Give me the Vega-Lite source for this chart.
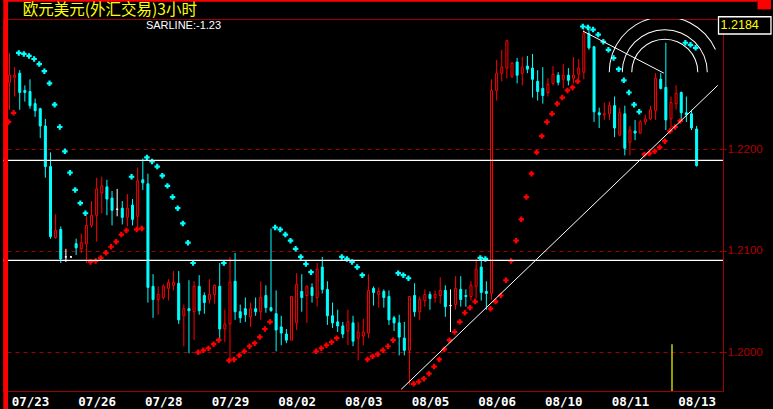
{
  "$schema": "https://vega.github.io/schema/vega-lite/v6.json",
  "width": 720,
  "height": 372,
  "autosize": {"type": "none"},
  "padding": {"left": 3, "top": 19, "right": 50, "bottom": 18},
  "background": "#000000",
  "config": {"view": {"stroke": "#a00000", "strokeWidth": 1, "fill": "#000000"}},
  "datasets": {
    "candles": [
      {"i":0,"o":1.2266,"h":1.2295,"l":1.2239,"c":1.2273,"s":1.2227},
      {"i":1,"o":1.2271,"h":1.2281,"l":1.2252,"c":1.2273,"s":1.2236},
      {"i":2,"o":1.2275,"h":1.2278,"l":1.2239,"c":1.2256,"s":1.2295},
      {"i":3,"o":1.2258,"h":1.2263,"l":1.2247,"c":1.2256,"s":1.2294},
      {"i":4,"o":1.2257,"h":1.2269,"l":1.2240,"c":1.2243,"s":1.2292},
      {"i":5,"o":1.2245,"h":1.2250,"l":1.2232,"c":1.2238,"s":1.2289},
      {"i":6,"o":1.2240,"h":1.2241,"l":1.2211,"c":1.2223,"s":1.2284},
      {"i":7,"o":1.2223,"h":1.2230,"l":1.2172,"c":1.2183,"s":1.2277},
      {"i":8,"o":1.2183,"h":1.2197,"l":1.2112,"c":1.2114,"s":1.2265},
      {"i":9,"o":1.2113,"h":1.2136,"l":1.2112,"c":1.2120,"s":1.2244},
      {"i":10,"o":1.2121,"h":1.2124,"l":1.2088,"c":1.2092,"s":1.2222},
      {"i":11,"o":1.2094,"h":1.2102,"l":1.2089,"c":1.2094,"s":1.2198},
      {"i":12,"o":1.2094,"h":1.2095,"l":1.2093,"c":1.2094,"s":1.2177},
      {"i":13,"o":1.2107,"h":1.2112,"l":1.2096,"c":1.2103,"s":1.2160},
      {"i":14,"o":1.2102,"h":1.2117,"l":1.2098,"c":1.2108,"s":1.2147},
      {"i":15,"o":1.2107,"h":1.2134,"l":1.2088,"c":1.2125,"s":1.2137},
      {"i":16,"o":1.2125,"h":1.2149,"l":1.2123,"c":1.2135,"s":1.2089},
      {"i":17,"o":1.2135,"h":1.2172,"l":1.2109,"c":1.2161,"s":1.2090},
      {"i":18,"o":1.2157,"h":1.2173,"l":1.2137,"c":1.2164,"s":1.2093},
      {"i":19,"o":1.2163,"h":1.2170,"l":1.2135,"c":1.2151,"s":1.2098},
      {"i":20,"o":1.2152,"h":1.2159,"l":1.2125,"c":1.2140,"s":1.2104},
      {"i":21,"o":1.2141,"h":1.2161,"l":1.2134,"c":1.2141,"s":1.2109},
      {"i":22,"o":1.2142,"h":1.2149,"l":1.2126,"c":1.2133,"s":1.2116},
      {"i":23,"o":1.2133,"h":1.2156,"l":1.2124,"c":1.2142,"s":1.2120},
      {"i":24,"o":1.2145,"h":1.2151,"l":1.2125,"c":1.2131,"s":1.2173},
      {"i":25,"o":1.2134,"h":1.2182,"l":1.2120,"c":1.2169,"s":1.2121},
      {"i":26,"o":1.2170,"h":1.2191,"l":1.2160,"c":1.2167,"s":1.2122},
      {"i":27,"o":1.2166,"h":1.2176,"l":1.2049,"c":1.2064,"s":1.2192},
      {"i":28,"o":1.2065,"h":1.2077,"l":1.2034,"c":1.2052,"s":1.2188},
      {"i":29,"o":1.2052,"h":1.2065,"l":1.2037,"c":1.2057,"s":1.2183},
      {"i":30,"o":1.2054,"h":1.2067,"l":1.2052,"c":1.2065,"s":1.2174},
      {"i":31,"o":1.2063,"h":1.2072,"l":1.2051,"c":1.2069,"s":1.2164},
      {"i":32,"o":1.2066,"h":1.2080,"l":1.2061,"c":1.2069,"s":1.2153},
      {"i":33,"o":1.2068,"h":1.2080,"l":1.2028,"c":1.2032,"s":1.2142},
      {"i":34,"o":1.2036,"h":1.2047,"l":1.2006,"c":1.2043,"s":1.2127},
      {"i":35,"o":1.2043,"h":1.2071,"l":1.1999,"c":1.2041,"s":1.2108},
      {"i":36,"o":1.2040,"h":1.2070,"l":1.2012,"c":1.2065,"s":1.2088},
      {"i":37,"o":1.2065,"h":1.2076,"l":1.2037,"c":1.2041,"s":1.2000},
      {"i":38,"o":1.2056,"h":1.2059,"l":1.2038,"c":1.2049,"s":1.2002},
      {"i":39,"o":1.2052,"h":1.2072,"l":1.2048,"c":1.2057,"s":1.2004},
      {"i":40,"o":1.2057,"h":1.2067,"l":1.2048,"c":1.2066,"s":1.2008},
      {"i":41,"o":1.2065,"h":1.2088,"l":1.2012,"c":1.2023,"s":1.2012},
      {"i":42,"o":1.2023,"h":1.2042,"l":1.2010,"c":1.2028,"s":1.2088},
      {"i":43,"o":1.2028,"h":1.2094,"l":1.1990,"c":1.2069,"s":1.1992},
      {"i":44,"o":1.2070,"h":1.2098,"l":1.2032,"c":1.2040,"s":1.1993},
      {"i":45,"o":1.2040,"h":1.2047,"l":1.2029,"c":1.2034,"s":1.1997},
      {"i":46,"o":1.2043,"h":1.2054,"l":1.2030,"c":1.2037,"s":1.2001},
      {"i":47,"o":1.2035,"h":1.2049,"l":1.2025,"c":1.2043,"s":1.2006},
      {"i":48,"o":1.2043,"h":1.2054,"l":1.2036,"c":1.2040,"s":1.2009},
      {"i":49,"o":1.2040,"h":1.2070,"l":1.2032,"c":1.2054,"s":1.2015},
      {"i":50,"o":1.2056,"h":1.2066,"l":1.2039,"c":1.2044,"s":1.2023},
      {"i":51,"o":1.2044,"h":1.2122,"l":1.2040,"c":1.2041,"s":1.2030},
      {"i":52,"o":1.2038,"h":1.2061,"l":1.2001,"c":1.2022,"s":1.2123},
      {"i":53,"o":1.2025,"h":1.2036,"l":1.2007,"c":1.2019,"s":1.2121},
      {"i":54,"o":1.2018,"h":1.2023,"l":1.2009,"c":1.2012,"s":1.2116},
      {"i":55,"o":1.2012,"h":1.2055,"l":1.2012,"c":1.2055,"s":1.2110},
      {"i":56,"o":1.2029,"h":1.2078,"l":1.2022,"c":1.2067,"s":1.2102},
      {"i":57,"o":1.2060,"h":1.2077,"l":1.2040,"c":1.2054,"s":1.2094},
      {"i":58,"o":1.2056,"h":1.2066,"l":1.2029,"c":1.2065,"s":1.2087},
      {"i":59,"o":1.2064,"h":1.2068,"l":1.2049,"c":1.2056,"s":1.2079},
      {"i":60,"o":1.2054,"h":1.2088,"l":1.2045,"c":1.2082,"s":1.2001},
      {"i":61,"o":1.2084,"h":1.2094,"l":1.2058,"c":1.2062,"s":1.2004},
      {"i":62,"o":1.2062,"h":1.2070,"l":1.2027,"c":1.2036,"s":1.2007},
      {"i":63,"o":1.2036,"h":1.2049,"l":1.2024,"c":1.2029,"s":1.2010},
      {"i":64,"o":1.2030,"h":1.2042,"l":1.2020,"c":1.2026,"s":1.2014},
      {"i":65,"o":1.2026,"h":1.2030,"l":1.2014,"c":1.2018,"s":1.2094},
      {"i":66,"o":1.2021,"h":1.2042,"l":1.2007,"c":1.2030,"s":1.2092},
      {"i":67,"o":1.2029,"h":1.2036,"l":1.2006,"c":1.2011,"s":1.2089},
      {"i":68,"o":1.2014,"h":1.2030,"l":1.1992,"c":1.2020,"s":1.2084},
      {"i":69,"o":1.2016,"h":1.2033,"l":1.2007,"c":1.2020,"s":1.2076},
      {"i":70,"o":1.2019,"h":1.2077,"l":1.2014,"c":1.2061,"s":1.1993},
      {"i":71,"o":1.2063,"h":1.2065,"l":1.2046,"c":1.2059,"s":1.1996},
      {"i":72,"o":1.2057,"h":1.2064,"l":1.2044,"c":1.2060,"s":1.1998},
      {"i":73,"o":1.2060,"h":1.2062,"l":1.2044,"c":1.2054,"s":1.2002},
      {"i":74,"o":1.2055,"h":1.2061,"l":1.2027,"c":1.2032,"s":1.2006},
      {"i":75,"o":1.2034,"h":1.2036,"l":1.2021,"c":1.2029,"s":1.2012},
      {"i":76,"o":1.2029,"h":1.2037,"l":1.1997,"c":1.2015,"s":1.2078},
      {"i":77,"o":1.2014,"h":1.2030,"l":1.1997,"c":1.2002,"s":1.2076},
      {"i":78,"o":1.2002,"h":1.2055,"l":1.1968,"c":1.2055,"s":1.2073},
      {"i":79,"o":1.2056,"h":1.2068,"l":1.2035,"c":1.2040,"s":1.1969},
      {"i":80,"o":1.2040,"h":1.2055,"l":1.2032,"c":1.2052,"s":1.1971},
      {"i":81,"o":1.2051,"h":1.2062,"l":1.2045,"c":1.2057,"s":1.1974},
      {"i":82,"o":1.2057,"h":1.2060,"l":1.2042,"c":1.2053,"s":1.1979},
      {"i":83,"o":1.2054,"h":1.2061,"l":1.2049,"c":1.2057,"s":1.1986},
      {"i":84,"o":1.2056,"h":1.2074,"l":1.2048,"c":1.2061,"s":1.1993},
      {"i":85,"o":1.2061,"h":1.2066,"l":1.2035,"c":1.2045,"s":1.2003},
      {"i":86,"o":1.2046,"h":1.2062,"l":1.2020,"c":1.2046,"s":1.2012},
      {"i":87,"o":1.2047,"h":1.2075,"l":1.2042,"c":1.2063,"s":1.2020},
      {"i":88,"o":1.2062,"h":1.2075,"l":1.2045,"c":1.2052,"s":1.2030},
      {"i":89,"o":1.2056,"h":1.2062,"l":1.2045,"c":1.2055,"s":1.2039},
      {"i":90,"o":1.2055,"h":1.2070,"l":1.2051,"c":1.2066,"s":1.2044},
      {"i":91,"o":1.2065,"h":1.2092,"l":1.2053,"c":1.2082,"s":1.2050},
      {"i":92,"o":1.2084,"h":1.2094,"l":1.2051,"c":1.2059,"s":1.2093},
      {"i":93,"o":1.2060,"h":1.2070,"l":1.2042,"c":1.2058,"s":1.2092},
      {"i":94,"o":1.2058,"h":1.2269,"l":1.2052,"c":1.2258,"s":1.2043},
      {"i":95,"o":1.2258,"h":1.2288,"l":1.2248,"c":1.2275,"s":1.2050},
      {"i":96,"o":1.2275,"h":1.2298,"l":1.2267,"c":1.2281,"s":1.2056},
      {"i":97,"o":1.2280,"h":1.2308,"l":1.2270,"c":1.2307,"s":1.2071},
      {"i":98,"o":1.2272,"h":1.2286,"l":1.2270,"c":1.2285,"s":1.2090},
      {"i":99,"o":1.2286,"h":1.2290,"l":1.2265,"c":1.2273,"s":1.2110},
      {"i":100,"o":1.2275,"h":1.2291,"l":1.2263,"c":1.2281,"s":1.2131},
      {"i":101,"o":1.2282,"h":1.2292,"l":1.2275,"c":1.2279,"s":1.2153},
      {"i":102,"o":1.2280,"h":1.2294,"l":1.2251,"c":1.2269,"s":1.2176},
      {"i":103,"o":1.2267,"h":1.2278,"l":1.2248,"c":1.2257,"s":1.2197},
      {"i":104,"o":1.2260,"h":1.2281,"l":1.2245,"c":1.2253,"s":1.2213},
      {"i":105,"o":1.2256,"h":1.2270,"l":1.2252,"c":1.2264,"s":1.2227},
      {"i":106,"o":1.2265,"h":1.2282,"l":1.2263,"c":1.2274,"s":1.2235},
      {"i":107,"o":1.2273,"h":1.2276,"l":1.2263,"c":1.2266,"s":1.2245},
      {"i":108,"o":1.2269,"h":1.2284,"l":1.2260,"c":1.2273,"s":1.2251},
      {"i":109,"o":1.2273,"h":1.2280,"l":1.2263,"c":1.2268,"s":1.2258},
      {"i":110,"o":1.2270,"h":1.2291,"l":1.2265,"c":1.2273,"s":1.2261},
      {"i":111,"o":1.2274,"h":1.2289,"l":1.2269,"c":1.2280,"s":1.2267},
      {"i":112,"o":1.2276,"h":1.2319,"l":1.2269,"c":1.2314,"s":1.2321},
      {"i":113,"o":1.2314,"h":1.2320,"l":1.2298,"c":1.2300,"s":1.2320},
      {"i":114,"o":1.2301,"h":1.2302,"l":1.2227,"c":1.2237,"s":1.2318},
      {"i":115,"o":1.2236,"h":1.2241,"l":1.2221,"c":1.2234,"s":1.2313},
      {"i":116,"o":1.2234,"h":1.2246,"l":1.2229,"c":1.2235,"s":1.2306},
      {"i":117,"o":1.2235,"h":1.2247,"l":1.2229,"c":1.2243,"s":1.2298},
      {"i":118,"o":1.2243,"h":1.2252,"l":1.2212,"c":1.2221,"s":1.2290},
      {"i":119,"o":1.2214,"h":1.2241,"l":1.2213,"c":1.2236,"s":1.2279},
      {"i":120,"o":1.2235,"h":1.2243,"l":1.2194,"c":1.2201,"s":1.2268},
      {"i":121,"o":1.2207,"h":1.2223,"l":1.2194,"c":1.2219,"s":1.2256},
      {"i":122,"o":1.2218,"h":1.2229,"l":1.2209,"c":1.2216,"s":1.2244},
      {"i":123,"o":1.2216,"h":1.2229,"l":1.2215,"c":1.2227,"s":1.2237},
      {"i":124,"o":1.2227,"h":1.2234,"l":1.2224,"c":1.2230,"s":1.2195},
      {"i":125,"o":1.2230,"h":1.2243,"l":1.2229,"c":1.2239,"s":1.2196},
      {"i":126,"o":1.2238,"h":1.2275,"l":1.2229,"c":1.2270,"s":1.2198},
      {"i":127,"o":1.2269,"h":1.2275,"l":1.2259,"c":1.2260,"s":1.2202},
      {"i":128,"o":1.2261,"h":1.2305,"l":1.2219,"c":1.2229,"s":1.2208},
      {"i":129,"o":1.2230,"h":1.2252,"l":1.2217,"c":1.2246,"s":1.2218},
      {"i":130,"o":1.2245,"h":1.2263,"l":1.2239,"c":1.2255,"s":1.2222},
      {"i":131,"o":1.2256,"h":1.2257,"l":1.2228,"c":1.2236,"s":1.2228},
      {"i":132,"o":1.2236,"h":1.2252,"l":1.2227,"c":1.2234,"s":1.2305},
      {"i":133,"o":1.2235,"h":1.2239,"l":1.2219,"c":1.2221,"s":1.2303},
      {"i":134,"o":1.2220,"h":1.2223,"l":1.2183,"c":1.2184,"s":1.2300}
    ],
    "hlines": [{"p": 1.21891}, {"p": 1.20906}],
    "segs": [
      {"a": 76.38, "pa": 1.19635, "b": 138.12, "pb": 1.2263},
      {"a": 111.83, "pa": 1.23165, "b": 127.6, "pb": 1.22751}
    ],
    "arcc": [{"cx": 127.79, "cy": 1.2276}],
    "cursor": [{"x": 129.2, "p": 1.2008, "p2": 1.19619}],
    "heading": [{"x": 2.6, "p": 1.23374, "t": "欧元美元(外汇交易)3小时"}],
    "sarlabel": [{"x": 26.6, "p": 1.23214, "t": "SARLINE:-1.23"}],
    "pricebox": [{"x": 138.27, "x2": 148.5, "p": 1.23306, "p2": 1.23136, "xm": 142.4, "pm": 1.2322, "t": "1.2184"}],
    "chrome": [
      {"x": -1.2, "x2": -0.288, "p": 1.23471, "p2": 1.1940},
      {"x": -1.2, "x2": 145.87, "p": 1.23471, "p2": 1.23454},
      {"x": 145.87, "x2": 148.5, "p": 1.23471, "p2": 1.23379}
    ]
  },
  "layer": [
    {
      "data": {"name": "candles"},
      "mark": {"type": "rule", "strokeWidth": 1},
      "encoding": {
        "x": {"field": "i", "type": "quantitative", "scale": {"domain": [-0.288, 138.17], "nice": false, "zero": false},
          "axis": {"title": null, "orient": "bottom", "values": [4,17,30,43,56,69,82,95,108,121,134],
            "labelExpr": "['07/23','07/26','07/28','07/29','08/02','08/03','08/05','08/06','08/10','08/11','08/13'][indexof([4,17,30,43,56,69,82,95,108,121,134], datum.value)]",
            "domain": false, "ticks": false, "grid": false, "labelColor": "#ffffff", "labelFont": "DejaVu Sans Mono", "labelFontWeight": "bold", "labelFontSize": 12.5, "labelPadding": 4, "labelFlush": false, "labelOverlap": false}},
        "y": {"field": "l", "type": "quantitative", "scale": {"domain": [1.19619, 1.23284], "nice": false, "zero": false},
          "axis": {"title": null, "orient": "right", "values": [1.2, 1.21, 1.22], "format": ".4f", "domain": false,
            "grid": true, "gridColor": "#a00000", "gridDash": [4, 4], "gridWidth": 1,
            "ticks": true, "tickColor": "#a00000", "tickSize": 3, "labelColor": "#b00000", "labelFont": "Liberation Sans", "labelFontSize": 11.5, "labelPadding": 1}},
        "y2": {"field": "h"},
        "color": {"condition": [{"test": "datum.c > datum.o", "value": "#ff0000"}, {"test": "datum.c < datum.o", "value": "#00ffff"}], "value": "#ffffff"}
      }
    },
    {
      "data": {"name": "candles"},
      "mark": {"type": "bar", "width": 2, "strokeWidth": 1},
      "encoding": {
        "x": {"field": "i", "type": "quantitative"},
        "y": {"field": "o", "type": "quantitative"},
        "y2": {"field": "c"},
        "fill": {"condition": {"test": "datum.c < datum.o", "value": "#00ffff"}, "value": "#000000"},
        "stroke": {"condition": [{"test": "datum.c > datum.o", "value": "#ff0000"}, {"test": "datum.c < datum.o", "value": "#00ffff"}], "value": "#ffffff"}
      }
    },
    {
      "data": {"name": "candles"},
      "mark": {"type": "point", "shape": "cross", "filled": true, "size": 30, "opacity": 1, "xOffset": -1},
      "encoding": {
        "x": {"field": "i", "type": "quantitative"},
        "y": {"field": "s", "type": "quantitative"},
        "color": {"condition": {"test": "datum.s > datum.c", "value": "#00ffff"}, "value": "#ff0000"}
      }
    },
    {
      "data": {"name": "hlines"},
      "mark": {"type": "rule", "color": "#ffffff", "strokeWidth": 1.3},
      "encoding": {"y": {"field": "p", "type": "quantitative"}}
    },
    {
      "data": {"name": "segs"},
      "mark": {"type": "rule", "color": "#ffffff", "strokeWidth": 1},
      "encoding": {
        "x": {"field": "a", "type": "quantitative"},
        "x2": {"field": "b"},
        "y": {"field": "pa", "type": "quantitative"},
        "y2": {"field": "pb"}
      }
    },
    {
      "data": {"name": "arcc"},
      "mark": {"type": "arc", "radius": 33.5, "radius2": 32.5, "theta": -1.5708, "theta2": 1.5708, "fill": "#ffffff", "clip": true},
      "encoding": {"x": {"field": "cx", "type": "quantitative"}, "y": {"field": "cy", "type": "quantitative"}}
    },
    {
      "data": {"name": "arcc"},
      "mark": {"type": "arc", "radius": 43, "radius2": 42, "theta": -1.5708, "theta2": 1.5708, "fill": "#ffffff", "clip": true},
      "encoding": {"x": {"field": "cx", "type": "quantitative"}, "y": {"field": "cy", "type": "quantitative"}}
    },
    {
      "data": {"name": "arcc"},
      "mark": {"type": "arc", "radius": 56, "radius2": 55, "theta": -1.5708, "theta2": 1.15, "fill": "#ffffff", "clip": true},
      "encoding": {"x": {"field": "cx", "type": "quantitative"}, "y": {"field": "cy", "type": "quantitative"}}
    },
    {
      "data": {"name": "cursor"},
      "mark": {"type": "rule", "color": "#ffff00", "strokeWidth": 1.2},
      "encoding": {"x": {"field": "x", "type": "quantitative"}, "y": {"field": "p", "type": "quantitative"}, "y2": {"field": "p2"}}
    },
    {
      "data": {"name": "sarlabel"},
      "mark": {"type": "text", "align": "left", "baseline": "middle", "color": "#ffffff", "font": "Liberation Sans", "fontSize": 11},
      "encoding": {"x": {"field": "x", "type": "quantitative"}, "y": {"field": "p", "type": "quantitative"}, "text": {"field": "t"}}
    },
    {
      "data": {"name": "pricebox"},
      "mark": {"type": "rect", "fill": "#000000", "stroke": "#ffffff", "strokeWidth": 1.3},
      "encoding": {"x": {"field": "x", "type": "quantitative"}, "x2": {"field": "x2"}, "y": {"field": "p", "type": "quantitative"}, "y2": {"field": "p2"}}
    },
    {
      "data": {"name": "pricebox"},
      "mark": {"type": "text", "align": "center", "baseline": "middle", "color": "#ffff00", "font": "Liberation Sans", "fontSize": 12.5},
      "encoding": {"x": {"field": "xm", "type": "quantitative"}, "y": {"field": "pm", "type": "quantitative"}, "text": {"field": "t"}}
    },
    {
      "data": {"name": "chrome"},
      "mark": {"type": "rect", "fill": "#ff0000"},
      "encoding": {"x": {"field": "x", "type": "quantitative"}, "x2": {"field": "x2"}, "y": {"field": "p", "type": "quantitative"}, "y2": {"field": "p2"}}
    },
    {
      "data": {"name": "heading"},
      "mark": {"type": "text", "align": "left", "baseline": "middle", "color": "#ffff00", "font": "Noto Sans CJK SC", "fontSize": 15.5},
      "encoding": {"x": {"field": "x", "type": "quantitative"}, "y": {"field": "p", "type": "quantitative"}, "text": {"field": "t"}}
    }
  ]
}
